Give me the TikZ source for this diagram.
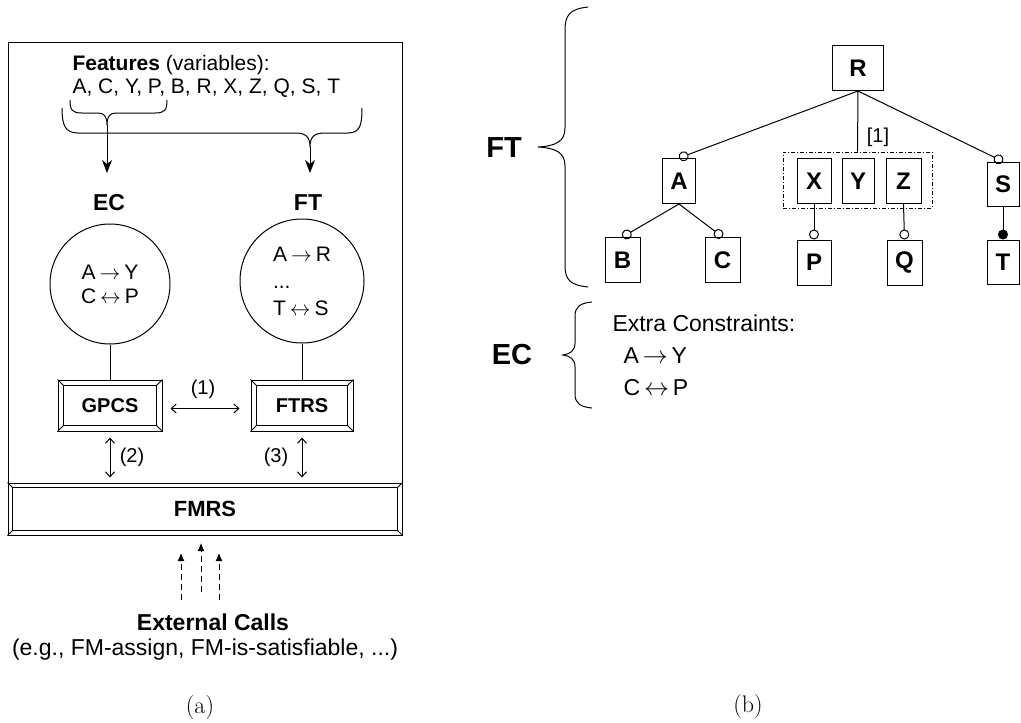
\documentclass[tikz,border=0pt]{standalone}
\usepackage{fontspec}
\usetikzlibrary{arrows.meta,calc}
\newfontfamily\arial{Liberation Sans}
\newcommand{\fsz}[2]{\fontsize{#1}{#2}\selectfont}
\newcommand{\imp}{\hspace{4pt}$\rightarrow$\hspace{4pt}}
\newcommand{\biimp}{\hspace{4pt}$\leftrightarrow$\hspace{4pt}}
% beveled frame inside a drawn node
\newcommand{\bevel}[2]{%
  \draw ($(#1.north west)+(#2,#2)$) rectangle ($(#1.south east)+(-#2,-#2)$);
  \draw (#1.north west) -- ++(#2,#2) (#1.north east) -- ++(-#2,#2)
        (#1.south west) -- ++(#2,-#2) (#1.south east) -- ++(-#2,-#2);
}
\tikzset{
  feat/.style={draw, minimum width=34, minimum height=45, inner sep=0pt, font=\arial\bfseries\fsz{24}{28}},
  relbox/.style={draw, inner sep=0pt, font=\arial\bfseries\fsz{20}{24}},
  constr/.style={draw, circle, inner sep=0pt},
  opt/.style={-{Circle[open,length=10pt,width=10pt]}},
  mand/.style={-{Circle[length=10pt,width=10pt]}},
  dbl/.style={{Straight Barb[length=5pt,width=9pt]}-{Straight Barb[length=5pt,width=9pt]}},
  call/.style={-{Latex[length=8pt,width=7pt]}, dash pattern=on 6pt off 4pt},
  feed/.style={-{Stealth[length=13pt,width=10pt,inset=4pt]}},
}
\begin{document}
\begin{tikzpicture}[x=1pt,y=-1pt,line width=1pt,font=\arial\fsz{21}{26}]
  \useasboundingbox (0,0) rectangle (1021,723);
  % (a) overview
  \draw (8,42) rectangle (402,535);
  \node[anchor=west,inner sep=0pt] (feat) at (72,65) {\textbf{Features} (variables):};
  \node[anchor=west,inner sep=0pt] (vars) at (72,88) {A, C, Y, P, B, R, X, Z, Q, S, T};
  \draw (70,100) .. controls (70,110) and (72,113) .. (82,113) -- (98,113)
    .. controls (104,113) and (107,116) .. (107,125)
    .. controls (107,116) and (110,113) .. (116,113) -- (155,113)
    .. controls (165,113) and (167,110) .. (167,100);
  \draw (62,108) .. controls (62,125) and (65,133) .. (78,133) -- (295,133)
    .. controls (306,133) and (310,137) .. (310,147)
    .. controls (310,137) and (314,133) .. (325,133) -- (348,133)
    .. controls (360,133) and (362,125) .. (362,108);
  \coordinate (ecTip) at (107,125);
  \coordinate (ecIn) at (107,173);
  \coordinate (ftTip) at (310,147);
  \coordinate (ftIn) at (310,173);
  \draw[feed] (ecTip) -- (ecIn);
  \draw[feed] (ftTip) -- (ftIn);
  \node[font=\arial\bfseries\fsz{23}{28}] (ecLbl) at (109,203) {EC};
  \node[font=\arial\bfseries\fsz{23}{28}] (ftLbl) at (308,203) {FT};
  \node[constr, minimum size=120, align=center, font=\arial\fsz{21}{24}] (ecSet) at (110,284) {A\imp Y\\C\biimp P};
  \node[constr, minimum size=124, align=left, font=\arial\fsz{21}{27}] (ftSet) at (302,281) {A\imp R\\...\\T\biimp S};
  \node[relbox, minimum width=104, minimum height=51] (gpcs) at (110,405.5) {GPCS};
  \node[relbox, minimum width=102, minimum height=51] (ftrs) at (302,405.5) {FTRS};
  \node[relbox, minimum width=394, minimum height=52, font=\arial\bfseries\fsz{22}{26}] (fmrs) at (205,509) {FMRS};
  \bevel{gpcs}{6}
  \bevel{ftrs}{6}
  \bevel{fmrs}{5}
  \draw (ecSet) -- (gpcs);
  \draw (ftSet) -- (ftrs);
  \draw[dbl] ([shift={(8,3)}]gpcs.east) -- ([shift={(-11,3)}]ftrs.west);
  \draw[dbl, shorten <=6pt, shorten >=5pt] (gpcs.south) -- (gpcs.south |- fmrs.north);
  \draw[dbl, shorten <=6pt, shorten >=5pt] (ftrs.south) -- (ftrs.south |- fmrs.north);
  \node[font=\arial\fsz{20}{24}] (one) at (203,389) {(1)};
  \node[font=\arial\fsz{20}{24}] (two) at (132,457) {(2)};
  \node[font=\arial\fsz{20}{24}] (three) at (276,457) {(3)};
  \foreach \i/\x/\ys/\ye in {1/181/600/553, 2/201/592/543, 3/219/600/553}{
    \coordinate (call\i) at (\x,\ys);
    \coordinate (hit\i) at (\x,\ye);
    \draw[call] (call\i) -- (hit\i);
  }
  \node[font=\arial\bfseries\fsz{23}{28}] (calls) at (213,622) {External Calls};
  \node[font=\arial\fsz{23}{28}] (eg) at (205,650) {(e.g., FM-assign, FM-is-satisfiable, ...)};
  \node[font=\normalfont\fsz{24}{28}] (capA) at (200,708) {(a)};
  % (b) feature tree
  \node[feat, minimum width=51] (R) at (858,68) {R};
  \node[feat, minimum width=33] (A) at (679,181) {A};
  \node[feat] (X) at (814,181) {X};
  \node[feat, minimum width=32] (Y) at (858,181) {Y};
  \node[feat, minimum width=35] (Z) at (903.5,181) {Z};
  \node[feat, minimum width=35] (B) at (622.5,260) {B};
  \node[feat, minimum width=35] (C) at (722.5,260) {C};
  \node[feat] (P) at (814,262.5) {P};
  \node[feat, minimum width=35] (Q) at (904.5,262.5) {Q};
  \node[feat, minimum width=32, minimum height=44] (S) at (1003,184) {S};
  \node[feat, minimum width=32, minimum height=44] (T) at (1003,262) {T};
  \node[draw, dash pattern=on 4pt off 2pt on 1pt off 2pt, minimum width=149, minimum height=56] (grp) at (857.5,180) {};
  \draw[opt] (R.south) -- (A.north);
  \draw (R.south) -- (grp.north);
  \draw[opt] (R.south) -- (S.north);
  \node[font=\arial\fsz{20}{24}] (card) at (878,137) {[1]};
  \draw[opt] (A.south) -- (B.north);
  \draw[opt] (A.south) -- (C.north);
  \draw[opt] (X.south) -- (P.north);
  \draw[opt] (Z.south) -- (Q.north);
  \draw[mand] (S.south) -- (T.north);
  \draw (588,7) .. controls (570,9) and (565,15) .. (565,30) -- (565,128)
    .. controls (565,142) and (555,146) .. (538,147)
    .. controls (555,148) and (565,152) .. (565,166) -- (565,265)
    .. controls (565,280) and (570,285) .. (588,287);
  \node[font=\arial\bfseries\fsz{29}{34}] (ftTag) at (504,148) {FT};
  \draw (592,302) .. controls (580,303) and (575,307) .. (575,316) -- (575,343)
    .. controls (575,351) and (570,354) .. (563,355)
    .. controls (570,356) and (575,359) .. (575,367) -- (575,394)
    .. controls (575,403) and (580,407) .. (592,408);
  \node[font=\arial\bfseries\fsz{29}{34}] (ecTag) at (512,355) {EC};
  \node[anchor=north west, align=left, inner sep=0pt, font=\arial\fsz{23}{32}] (extra) at (612,314)
    {Extra Constraints:\\\hspace*{11pt}A\imp Y\\\hspace*{11pt}C\biimp P};
  \node[font=\normalfont\fsz{24}{28}] (capB) at (748,707) {(b)};
\end{tikzpicture}
\end{document}
